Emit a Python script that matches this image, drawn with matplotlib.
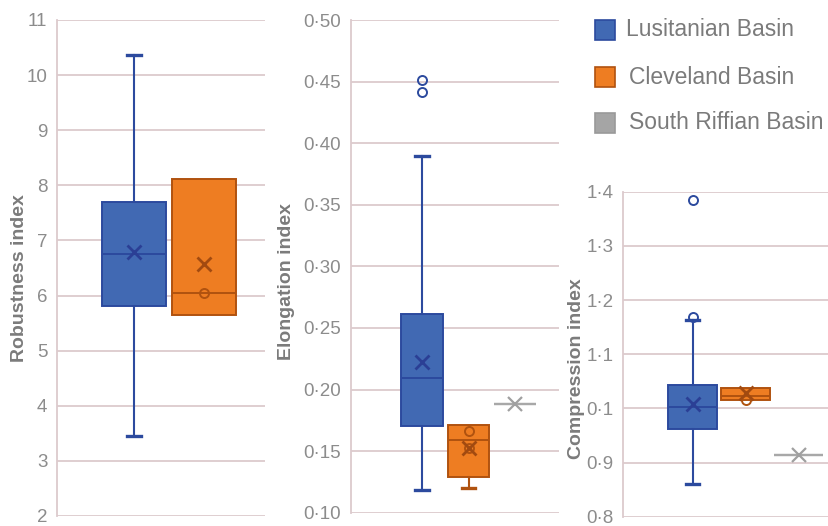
import matplotlib
matplotlib.use('Agg')
import matplotlib.pyplot as plt
from matplotlib.patches import Rectangle

plt.rcParams['font.family'] = ['Liberation Sans', 'DejaVu Sans']

# ---------------- data ----------------
basins = ['Lusitanian Basin', 'Cleveland Basin', 'South Riffian Basin']

# Robustness index (Lusitanian, Cleveland)
rob_lo = [3.46, 5.64]
rob_q1 = [5.81, 5.64]
rob_med = [6.76, 6.05]
rob_q3 = [7.70, 8.12]
rob_hi = [10.37, 8.12]
rob_mean = [6.79, 6.57]
rob_fliers = [[], [6.05]]
rob_ticks = [2, 3, 4, 5, 6, 7, 8, 9, 10, 11]
rob_ticklabels = ['2', '3', '4', '5', '6', '7', '8', '9', '10', '11']

# Elongation index (Lusitanian, Cleveland, South Riffian)
elo_lo = [0.1185, 0.1201, 0.188]
elo_q1 = [0.1705, 0.1288, 0.188]
elo_med = [0.2094, 0.159, 0.188]
elo_q3 = [0.2616, 0.1712, 0.188]
elo_hi = [0.3896, 0.1712, 0.188]
elo_mean = [0.222, 0.1524, 0.188]
elo_fliers = [[0.4513, 0.4413], [0.1666, 0.1524], []]
elo_ticks = [0.10, 0.15, 0.20, 0.25, 0.30, 0.35, 0.40, 0.45, 0.50]
elo_ticklabels = ['0·10', '0·15', '0·20', '0·25', '0·30', '0·35', '0·40', '0·45', '0·50']

# Compression index (Lusitanian, Cleveland, South Riffian)
com_lo = [0.860, 1.016, 0.914]
com_q1 = [0.962, 1.016, 0.914]
com_med = [1.003, 1.022, 0.914]
com_q3 = [1.043, 1.038, 0.914]
com_hi = [1.163, 1.038, 0.914]
com_mean = [1.008, 1.028, 0.914]
com_fliers = [[1.385, 1.168], [1.015], []]
com_ticks = [0.8, 0.9, 1.0, 1.1, 1.2, 1.3, 1.4]
com_ticklabels = ['0·8', '0·9', '0·1', '1·1', '1·2', '1·3', '1·4']

# ---------------- styles ----------------
fill_cols = ['#4169b3', '#ee7d22', '#a5a5a5']
edge_cols = ['#2c4a9e', '#b0520f', '#a8a8a8']
mean_cols = ['#2b3f95', '#a24a10', '#a0a0a0']
grid_col = '#dccacd'
tick_col = '#8c8c8c'
label_col = '#7b7b7b'

W, H = 829, 526
fig = plt.figure(figsize=(W / 100, H / 100), dpi=100)


def px_axes(left, right, top, bottom):
    return fig.add_axes([left / W, 1 - bottom / H, (right - left) / W, (bottom - top) / H])


def draw_panel(ax, lo, q1, med, q3, hi, mean, fliers, ticks, ticklabels,
               xlim, width, capw):
    n = len(med)
    stats = []
    for i in range(n):
        stats.append(dict(whislo=lo[i], q1=q1[i], med=med[i], q3=q3[i],
                          whishi=hi[i], mean=mean[i], fliers=fliers[i]))
    res = ax.bxp(stats, positions=list(range(n)), widths=width,
                 patch_artist=True, showmeans=True, capwidths=capw,
                 manage_ticks=False)
    for i in range(n):
        b = res['boxes'][i]
        b.set_facecolor(fill_cols[i] if i < 2 else 'none')
        b.set_edgecolor(edge_cols[i])
        b.set_linewidth(1.4 if i < 2 else 1.6)
        res['medians'][i].set_color(edge_cols[i])
        res['medians'][i].set_linewidth(1.4 if i < 2 else 1.6)
        for w in res['whiskers'][2 * i:2 * i + 2]:
            w.set_color(edge_cols[i])
            w.set_linewidth(1.5)
        caps = res['caps'][2 * i:2 * i + 2]
        for c in caps:
            c.set_color(edge_cols[i])
            c.set_linewidth(2.4)
        caps[0].set_visible(lo[i] != q1[i])
        caps[1].set_visible(hi[i] != q3[i])
        m = res['means'][i]
        m.set_marker('x')
        m.set_markersize(10)
        m.set_markeredgewidth(2 if i < 2 else 1.6)
        m.set_markeredgecolor(mean_cols[i])
        m.set_markerfacecolor(mean_cols[i])
        f = res['fliers'][i]
        f.set_marker('o')
        f.set_markersize(6.5)
        f.set_markerfacecolor('none')
        f.set_markeredgecolor(edge_cols[i])
        f.set_markeredgewidth(1.4)

    ax.set_xlim(*xlim)
    ax.set_ylim(ticks[0], ticks[-1])
    ax.set_yticks(ticks)
    ax.set_yticklabels(ticklabels)
    ax.set_xticks([])
    ax.tick_params(axis='y', length=0, pad=7, labelsize=13.5, labelcolor=tick_col)
    ax.grid(axis='y', color=grid_col, linewidth=1.3)
    ax.set_axisbelow(True)
    for s in ['top', 'right', 'bottom']:
        ax.spines[s].set_visible(False)
    ax.spines['left'].set_color(grid_col)
    ax.spines['left'].set_linewidth(1.3)
    ax.patch.set_alpha(0)
    for t in ax.get_yticklabels():
        t.set_clip_on(False)


ax1 = px_axes(57, 265, 20, 516)
draw_panel(ax1, rob_lo, rob_q1, rob_med, rob_q3, rob_hi, rob_mean, rob_fliers,
           rob_ticks, rob_ticklabels, (-1.1, 1.871), 0.914, 0.19)

ax2 = px_axes(351, 559, 20, 512.7)
draw_panel(ax2, elo_lo, elo_q1, elo_med, elo_q3, elo_hi, elo_mean, elo_fliers,
           elo_ticks, elo_ticklabels, (-1.527, 2.946), 0.89, 0.28)

ax3 = px_axes(623, 829, 191.7, 516.7)
draw_panel(ax3, com_lo, com_q1, com_med, com_q3, com_hi, com_mean, com_fliers,
           com_ticks, com_ticklabels, (-1.315, 2.572), 0.92, 0.245)

# axis titles
for (x, y, txt) in [(20, 278, 'Robustness index'), (287, 282, 'Elongation index'),
                    (577, 369, 'Compression index')]:
    fig.text(x / W, 1 - y / H, txt, rotation=90, ha='center', va='center',
             fontsize=14, fontweight='bold', color=label_col)

# legend
leg_y = [30, 77, 123]
leg_tx = [626.5, 629, 629]
for i, name in enumerate(basins):
    fig.patches.append(Rectangle((595 / W, 1 - (leg_y[i] + 10) / H), 20 / W, 20 / H,
                                 transform=fig.transFigure, facecolor=fill_cols[i],
                                 edgecolor=edge_cols[i] if i < 2 else '#999999',
                                 linewidth=1.2))
    fig.text(leg_tx[i] / W, 1 - leg_y[i] / H, name, ha='left', va='center',
             fontsize=16.5, color=label_col)

fig.savefig('out.png', dpi=100)
